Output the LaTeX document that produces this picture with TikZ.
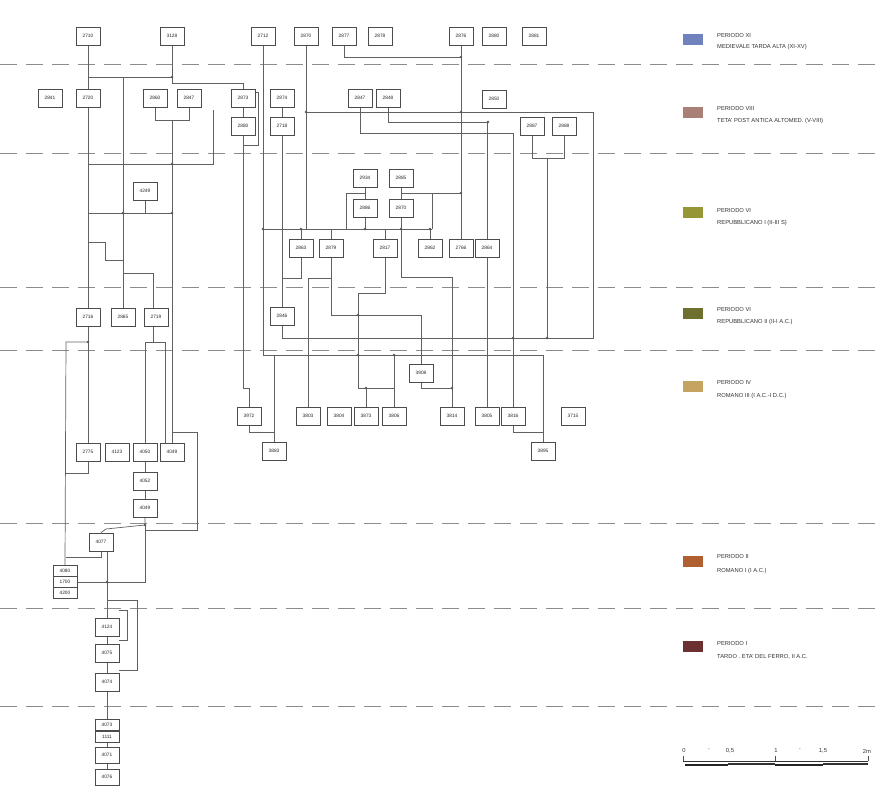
\documentclass[tikz,border=0pt]{standalone}
\usepackage{fontspec}
\setsansfont{Liberation Sans}
\begin{document}
\pgfdeclarelayer{bg}
\pgfsetlayers{bg,main}
\begin{tikzpicture}[x=1pt,y=-1pt,
  bx/.style={draw=black!70,line width=0.7pt,fill=white,minimum width=24pt,minimum height=18pt,inner sep=0pt,font=\sffamily\fontsize{4.8}{5}\selectfont,text=black!85},
  sb/.style={bx,minimum height=11pt},
  ln/.style={draw=black!62,line width=0.7pt},
  dl/.style={draw=black!45,line width=0.9pt,dash pattern=on 17pt off 9pt},
  jd/.style={circle,fill=black!65,inner sep=0pt,minimum size=2.6pt},
  lg/.style={anchor=west,inner sep=0pt,font=\sffamily\fontsize{5.8}{6}\selectfont,text=black!80}]
\useasboundingbox (0,0) rectangle (879,791);

% ---------- boxes ----------
\node[bx] (A1) at (88,36) {2710};
\node[bx] (A2) at (172,36) {3128};
\node[bx] (A3) at (263,36) {2712};
\node[bx] (A4) at (306,36) {2870};
\node[bx] (A5) at (344,36) {2877};
\node[bx] (A6) at (380,36) {2878};
\node[bx] (A7) at (461,36) {2876};
\node[bx] (A8) at (494,36) {2880};
\node[bx] (A9) at (534,36) {2881};

\node[bx] (B1) at (50,98) {2841};
\node[bx] (B2) at (88,98) {2720};
\node[bx] (B3) at (155,98) {2860};
\node[bx] (B4) at (189,98) {2847};
\node[bx] (B5) at (243,98) {2873};
\node[bx] (B5b) at (243,126) {2880};
\node[bx] (B6) at (282,98) {2874};
\node[bx] (B6b) at (282,126) {2718};
\node[bx] (B7) at (360,98) {2847};
\node[bx] (B8) at (388,98) {2848};
\node[bx] (B9) at (494,99) {2850};
\node[bx] (B10) at (532,126) {2887};
\node[bx] (B11) at (564,126) {2888};

\node[bx] (C0) at (145,191) {4249};
\node[bx] (C1) at (365,178) {2934};
\node[bx] (C2) at (401,178) {2885};
\node[bx] (C3) at (365,208) {2886};
\node[bx] (C4) at (401,208) {2870};

\node[bx] (D1) at (301,248) {2863};
\node[bx] (D2) at (331,248) {2879};
\node[bx] (D3) at (385,248) {2817};
\node[bx] (D4) at (430,248) {2862};
\node[bx] (D5) at (461,248) {2766};
\node[bx] (D6) at (487,248) {2864};

\node[bx] (E1) at (88,317) {2716};
\node[bx] (E2) at (123,317) {2865};
\node[bx] (E3) at (156,317) {2719};
\node[bx] (E5) at (282,316) {2846};

\node[bx] (F1) at (88,452) {2775};
\node[bx] (F2) at (117,452) {4123};
\node[bx] (F3) at (145,452) {4050};
\node[bx] (F4) at (172,452) {4049};
\node[bx] (G1) at (145,481) {4052};
\node[bx] (G2) at (145,508) {4049};
\node[bx] (H1) at (101,542) {4077};
\node[sb] (S1) at (65,571) {4080};
\node[sb] (S2) at (65,582) {1700};
\node[sb] (S3) at (65,593) {4200};

\node[bx] (J1) at (107,627) {4124};
\node[bx] (J2) at (107,653) {4075};
\node[bx] (J3) at (107,682) {4074};
\node[sb] (K1) at (107,725) {4073};
\node[sb] (K2) at (107,737) {1111};
\node[bx,minimum height=16pt] (K3) at (107,755) {4071};
\node[bx,minimum height=16pt] (K4) at (107,777) {4076};

\node[bx] (L0) at (249,416) {3972};
\node[bx] (L1) at (308,416) {3803};
\node[bx] (L2) at (339,416) {3804};
\node[bx] (L3) at (366,416) {3873};
\node[bx] (L4) at (394,416) {3806};
\node[bx] (L5) at (452,416) {3814};
\node[bx] (L6) at (487,416) {3805};
\node[bx] (L7) at (513,416) {3816};
\node[bx] (L8) at (573,416) {3715};
\node[bx] (M1) at (421,373) {3908};
\node[bx] (N1) at (274,451) {3883};
\node[bx] (N2) at (543,451) {3895};

% ---------- junction coordinates ----------
\coordinate (jA) at (172,120);
\coordinate (jB) at (145,525);
\coordinate (jC) at (547,158);

\begin{pgfonlayer}{bg}
\fill[white] (0,0) rectangle (879,791);
% period separators
\foreach \yy in {64,153,287,350,523,608,706}
  \draw[dl] (0,\yy) -- (879,\yy);

% ---------- left group ----------
\draw[ln] (A1) -- (B2);
\draw[ln] (B2) -- (E1);
\draw[ln] (A2.south) -- (172,83) -| (B5.north);
\draw[ln] (88,77) -- (172,77);
\draw[ln] (123,77) -- (E2.north);
\draw[ln] (B3.south) -- (155,120) -| (B4.south);
\draw[ln] (jA) -- (F4.north);
\draw[ln] (88,164) -- (213,164) -- (213,110);
\draw[ln] (88,213) -- (172,213);
\draw[ln] (C0.south) -- (145,213);
\draw[ln] (88,242) -- (105,242) -- (105,260) -- (123,260);
\draw[ln] (123,273) -- (153,273) -- (153,308);
\draw[ln] (E1) -- (F1);
\draw[ln] (88,342) -- (66,342) -- (S1.north);
\draw[ln] (F1.south) -- (88,473) -- (66,473);
\draw[ln] (153,326) -- (153,342);
\draw[ln] (145,342) -- (165,342);
\draw[ln] (145,342) -- (F3.north);
\draw[ln] (165,342) -- (165,443);
\draw[ln] (172,432) -- (197,432) -- (197,530) -- (145,530);
\draw[ln] (F3) -- (G1);
\draw[ln] (G1) -- (G2);
\draw[ln] (G2.south) -- (jB) -- (106,529) -- (H1.north);
\draw[ln] (jB) -- (145,582) -- (S2.east);
\draw[ln] (H1.south) -- (101,557) -- (66,557);
\draw[ln] (107,551) -- (J1.north);
\draw[ln] (107,600) -- (137,600) -- (137,670) -- (119,670);
\draw[ln] (119,610) -- (127,610) -- (127,640) -- (119,640);
\draw[ln] (J1) -- (J2);
\draw[ln] (J2) -- (J3);
\draw[ln] (J3) -- (K1);
\draw[ln] (K2) -- (K3);
\draw[ln] (K3) -- (K4);

% ---------- right group ----------
\draw[ln] (A3.south) -- (263,355) -- (543,355) -- (N2.north);
\draw[ln] (A4.south) -- (306,229);
\draw[ln] (306,112) -- (593,112) -- (593,338) -- (282,338);
\draw[ln] (A5.south) -- (344,57) -- (461,57);
\draw[ln] (A7) -- (D5);
\draw[ln] (B5) -- (B5b);
\draw[ln] (B5b.south) -- (243,388) -| (L0.north);
\draw[ln] (255,92) -- (258,92) -- (258,145) -- (243,145);
\draw[ln] (B6) -- (B6b);
\draw[ln] (B6b) -- (E5);
\draw[ln] (E5.south) -- (282,338);
\draw[ln] (B7.south) -- (360,133) -| (L7.north);
\draw[ln] (B8.south) -- (388,122) -| (D6.north);
\draw[ln] (D6) -- (L6);
\draw[ln] (B10.south) -- (532,158) -| (B11.south);
\draw[ln] (jC) -- (547,338);
\draw[ln] (C1) -- (C3);
\draw[ln] (C2) -- (C4);
\draw[ln] (C3.south) -- (365,229);
\draw[ln] (C4.south) -- (401,277) -- (452,277) -- (L5.north);
\draw[ln] (365,193) -- (346,193) -- (346,229);
\draw[ln] (401,193) -- (432,193) -- (432,229);
\draw[ln] (432,193) -- (461,193);
\draw[ln] (263,229) -- (432,229);
\draw[ln] (301,229) -- (D1.north);
\draw[ln] (331,229) -- (D2.north);
\draw[ln] (385,229) -- (D3.north);
\draw[ln] (430,229) -- (D4.north);
\draw[ln] (D1.south) -- (301,278) -- (282,278);
\draw[ln] (D2.south) -- (331,315) -| (M1.north);
\draw[ln] (331,278) -- (308,278) -- (L1.north);
\draw[ln] (D3.south) -- (385,293) -- (358,293) -- (358,388) -- (394,388);
\draw[ln] (366,388) -- (L3.north);
\draw[ln] (394,355) -- (L4.north);
\draw[ln] (M1.south) -- (421,388) -- (452,388);
\draw[ln] (L0.south) -- (249,432) -- (274,432);
\draw[ln] (274,355) -- (N1.north);
\draw[ln] (L7.south) -- (513,432) -- (543,432);
\end{pgfonlayer}

% junction dots
\foreach \p in {(172,77),(123,213),(172,164),(172,213),(263,229),(301,229),(365,229),(401,229),(430,229),(358,315),(461,193),(461,57),(145,525),(107,582),(88,342),(358,355),(394,355),(452,388),(366,388),(547,338),(513,338),(306,112),(461,112),(488,122)}
  \node[jd] at \p {};

% ---------- legend ----------
\fill[fill={rgb,255:red,112;green,130;blue,190}] (683,34) rectangle (703,45);
\node[lg] (t1a) at (717,36) {PERIODO XI};
\node[lg] (t1b) at (717,47) {MEDIEVALE TARDA ALTA (XI-XV)};
\fill[fill={rgb,255:red,168;green,128;blue,118}] (683,107) rectangle (703,118);
\node[lg] (t2a) at (717,109) {PERIODO VIII};
\node[lg] (t2b) at (717,121) {TETA' POST ANTICA ALTOMED. (V-VIII)};
\fill[fill={rgb,255:red,150;green,150;blue,55}] (683,207) rectangle (703,218);
\node[lg] (t3a) at (717,211) {PERIODO VI};
\node[lg] (t3b) at (717,223) {REPUBBLICANO I (II-III S)};
\fill[fill={rgb,255:red,110;green,112;blue,48}] (683,308) rectangle (703,319);
\node[lg] (t4a) at (717,310) {PERIODO VI};
\node[lg] (t4b) at (717,322) {REPUBBLICANO II (II-I A.C.)};
\fill[fill={rgb,255:red,196;green,164;blue,96}] (683,381) rectangle (703,392);
\node[lg] (t5a) at (717,383) {PERIODO IV};
\node[lg] (t5b) at (717,396) {ROMANO III (I A.C.-I D.C.)};
\fill[fill={rgb,255:red,176;green,96;blue,48}] (683,556) rectangle (703,567);
\node[lg] (t6a) at (717,557) {PERIODO II};
\node[lg] (t6b) at (717,571) {ROMANO I (I A.C.)};
\fill[fill={rgb,255:red,108;green,48;blue,48}] (683,641) rectangle (703,652);
\node[lg] (t7a) at (717,644) {PERIODO I};
\node[lg] (t7b) at (717,657) {TARDO . ETA' DEL FERRO, II A.C.};

% ---------- scale bar ----------
\draw[black!80,line width=0.5pt] (683,761) -- (868,761);
\draw[black!85,line width=2.6pt] (685,765) -- (728,765);
\draw[black!85,line width=2.6pt] (775,765) -- (823,765);
\draw[black!80,line width=1.2pt] (728,764) -- (775,764);
\draw[black!80,line width=1.2pt] (823,764) -- (868,764);
\foreach \xx in {683,775,868} \draw[black!70,line width=0.4pt] (\xx,756) -- (\xx,761);
\node[lg,anchor=center] (s0) at (684,751) {0};
\node[lg,anchor=center] (s1) at (709,751) {'};
\node[lg,anchor=center] (s2) at (730,751) {0,5};
\node[lg,anchor=center] (s3) at (776,751) {1};
\node[lg,anchor=center] (s4) at (800,751) {'};
\node[lg,anchor=center] (s5) at (823,751) {1,5};
\node[lg,anchor=center] (s6) at (867,751) {2m};
\end{tikzpicture}
\end{document}
